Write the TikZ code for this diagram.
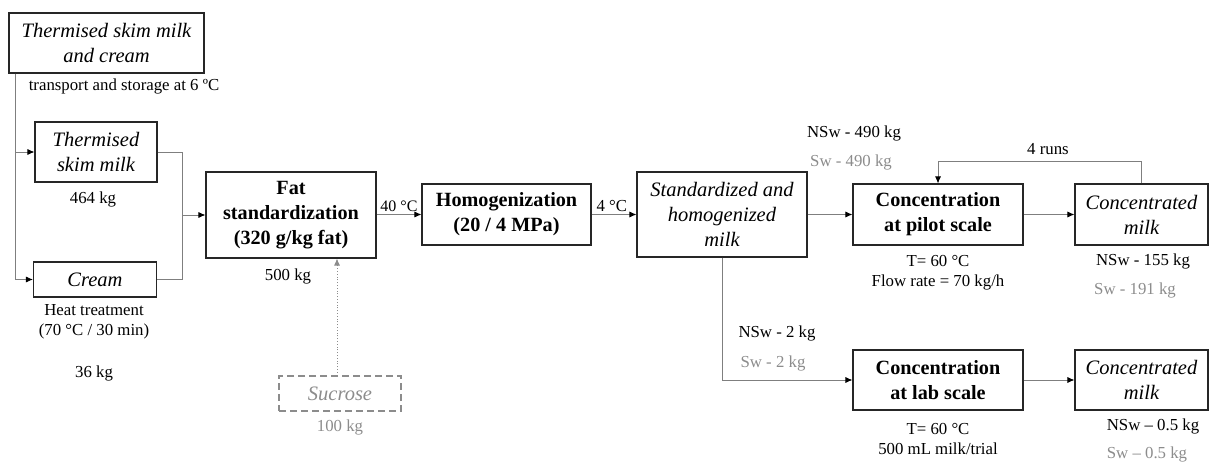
\documentclass[tikz,border=0pt]{standalone}
\usepackage{fontspec}
\setmainfont{Liberation Serif}
\usetikzlibrary{arrows.meta}
\definecolor{linegray}{HTML}{7F7F7F}
\definecolor{txtgray}{HTML}{8C8C8C}
\tikzset{
  box/.style={draw=black!85, line width=1.1pt, rectangle, inner sep=0pt, align=center},
  itbox/.style={box, font=\fontsize{20.5}{25}\selectfont\itshape},
  bfbox/.style={box, font=\fontsize{20.2}{25}\selectfont\bfseries},
  lbl/.style={inner sep=0pt, align=center, font=\fontsize{16.8}{20.5}\selectfont},
  graylbl/.style={lbl, text=txtgray},
  flow/.style={draw=linegray, line width=0.8pt},
  conn/.style={flow, -{Latex[length=7pt,width=6pt,color=black]}},
  dotconn/.style={draw=txtgray, line width=0.8pt, dotted, -{Latex[length=7pt,width=6pt,color=txtgray]}}
}
\begin{document}
\begin{tikzpicture}[x=1pt,y=-1pt]
\useasboundingbox (0,0) rectangle (1209,462);

% raw materials
\node[itbox, minimum width=195pt, minimum height=60pt] (src) at (106.5,43) {Thermised skim milk\\and cream};
\node[lbl] (srclbl) at (124,86) {transport and storage at 6 ºC};
\node[itbox, minimum width=122pt, minimum height=60pt] (skim) at (96,152) {Thermised\\skim milk};
\node[lbl] (skimkg) at (93,199) {464 kg};
\node[itbox, minimum width=123pt, minimum height=35pt] (cream) at (95,279.5) {Cream};
\node[lbl] (heat) at (94,322) {Heat treatment\\(70 °C / 30 min)};
\node[lbl] (creamkg) at (94,373) {36 kg};

% standardization and homogenization
\node[bfbox, minimum width=170pt, minimum height=86pt] (fat) at (291,215) {Fat\\standardization\\(320 g/kg fat)};
\node[lbl] (fatkg) at (288,276) {500 kg};
\node[box, draw=txtgray, dashed, dash pattern=on 7pt off 4pt, text=txtgray, font=\fontsize{20.5}{25}\selectfont\itshape, minimum width=122pt, minimum height=35pt] (sucrose) at (340,393.5) {Sucrose};
\node[graylbl] (sucrosekg) at (340,427) {100 kg};
\node[bfbox, minimum width=169pt, minimum height=61pt] (homog) at (506.5,214.5) {Homogenization\\(20 / 4 MPa)};
\node[itbox, minimum width=170pt, minimum height=85pt] (std) at (722,214.5) {Standardized and\\homogenized\\milk};

% pilot scale branch
\node[lbl] (nsw490) at (854,133) {NSw - 490 kg};
\node[graylbl] (sw490) at (851,162) {Sw - 490 kg};
\node[bfbox, minimum width=170pt, minimum height=61pt] (pilot) at (938,214.5) {Concentration\\at pilot scale};
\node[lbl] (pilotcond) at (938,272.5) {T= 60 °C\\Flow rate = 70 kg/h};
\node[itbox, minimum width=133pt, minimum height=61pt] (cm1) at (1141.5,214.5) {Concentrated\\milk};
\node[lbl] (nsw155) at (1143,261) {NSw - 155 kg};
\node[graylbl] (sw191) at (1135,290) {Sw - 191 kg};
\node[lbl] (runs) at (1048,149) {4 runs};

% lab scale branch
\node[lbl] (nsw2) at (777,333) {NSw - 2 kg};
\node[graylbl] (sw2) at (773,363) {Sw - 2 kg};
\node[bfbox, minimum width=170pt, minimum height=60pt] (lab) at (938,380) {Concentration\\at lab scale};
\node[lbl] (labcond) at (938,439) {T= 60 °C\\500 mL milk/trial};
\node[itbox, minimum width=133pt, minimum height=60pt] (cm2) at (1141.5,380) {Concentrated\\milk};
\node[lbl] (nsw05) at (1153,426) {NSw – 0.5 kg};
\node[graylbl] (sw05) at (1147,454) {Sw – 0.5 kg};

% connectors
\coordinate (split) at ([xshift=7pt]src.south west);
\coordinate (merge) at (182,215);
\draw[conn] (split) |- (skim.west);
\draw[conn] (split) |- (cream.west);
\draw[flow] (skim.east) -| (merge);
\draw[flow] (cream.east) -| (merge);
\draw[conn] (merge) -- (fat.west);
\draw[dotconn] ([xshift=-3pt]sucrose.north) -- ([xshift=-3pt]sucrose.north |- fat.south);
\draw[conn] (fat.east |- homog.west) -- node[lbl, above=2pt, font=\fontsize{16}{20}\selectfont] (t40) {40 °C} (homog.west);
\draw[conn] (homog.east) -- node[lbl, above=2pt, pos=0.45] (t4) {4 °C} (std.west);
\draw[conn] (std.east) -- (pilot.west);
\draw[conn] (pilot.east) -- (cm1.west);
\draw[conn] (cm1.north) -- ++(0,-22) -| (pilot.north);
\draw[conn] (std.south) |- (lab.west);
\draw[conn] (lab.east) -- (cm2.west);
\end{tikzpicture}
\end{document}
